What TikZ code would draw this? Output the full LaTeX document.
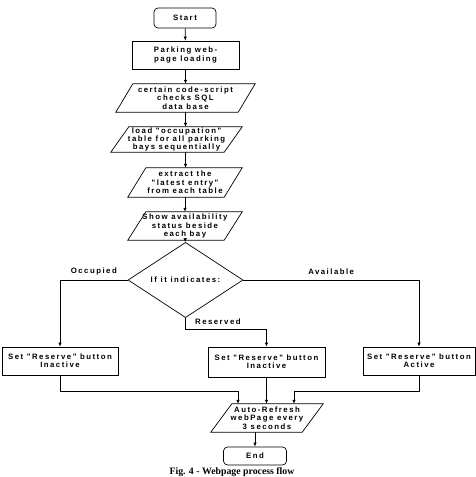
\documentclass[tikz,border=0pt]{standalone}
\usepackage{fontspec}
\setmainfont{Liberation Serif}
\newfontfamily\flowfont[LetterSpace=19]{Liberation Sans}
\usetikzlibrary{shapes.geometric,arrows.meta}
\tikzset{
  txt/.style={font=\flowfont\bfseries\fontsize{7.8}{8.4}\selectfont, align=center, inner sep=0pt},
  procbox/.style={txt, draw, line width=0.7pt},
  termbox/.style={txt, draw, rounded corners=4pt, line width=0.7pt},
  iobox/.style={txt},
  decbox/.style={txt, draw, diamond, line width=0.7pt, minimum width=115pt, minimum height=52pt},
  arr/.style={-{Latex[length=4pt,width=3.5pt]}, line width=0.7pt},
  para/.style={line width=0.7pt},
}
\newcommand{\paraoutline}[2]{\draw[para] (#1.south west) -- ([xshift=#2pt]#1.north west) -- (#1.north east) -- ([xshift=-#2pt]#1.south east) -- cycle;}
\begin{document}
\begin{tikzpicture}[x=1pt,y=-1pt]
\useasboundingbox (0,0) rectangle (476,477);
\node[termbox, minimum width=62pt, minimum height=20pt] (start) at (185,18) {Start};
\node[procbox, minimum width=107pt, minimum height=28pt] (load) at (185.5,55) {Parking web-\\page loading};
\node[iobox, minimum width=139pt, minimum height=28pt] (p1) at (185.5,98) {certain code-script\\checks SQL\\data base};
\paraoutline{p1}{17}
\node[iobox, minimum width=131pt, minimum height=25pt] (p2) at (176.5,139.5) {load "occupation"\\table for all parking\\bays sequentially};
\paraoutline{p2}{18}
\node[iobox, minimum width=114pt, minimum height=29pt] (p3) at (185,182.5) {extract the\\"latest entry"\\from each table};
\paraoutline{p3}{18}
\node[iobox, minimum width=114pt, minimum height=28pt] (p4) at (185,226) {Show availability\\status beside\\each bay};
\paraoutline{p4}{18}
\node[decbox] (dec) at (185.5,280) {If it indicates:};
\node[procbox, minimum width=116pt, minimum height=28pt] (bl) at (60,361) {Set "Reserve" button\\Inactive};
\node[procbox, minimum width=117pt, minimum height=30pt] (bm) at (266.5,362) {Set "Reserve" button\\Inactive};
\node[procbox, minimum width=112pt, minimum height=28pt] (br) at (419,361) {Set "Reserve" button\\Active};
\node[iobox, minimum width=112pt, minimum height=28pt] (p5) at (267,418) {Auto-Refresh\\webPage every\\3 seconds};
\paraoutline{p5}{21}
\node[termbox, minimum width=63pt, minimum height=18pt] (end) at (255,456) {End};
\node[font=\bfseries\fontsize{9.8}{10}\selectfont, inner sep=0pt] (cap) at (232,472) {Fig. 4 - Webpage process flow};

\draw[arr] (start) -- (load);
\draw[arr] (load) -- (p1);
\draw[arr] (p1.south) -- (p1.south |- p2.north);
\draw[arr] (p1.south |- p2.south) -- (p1.south |- p3.north);
\draw[arr] (p3) -- (p4);
\draw[arr] (p4) -- (dec);
\draw[arr] (dec.west) -| node[txt, pos=0.25, above=5pt] {Occupied} (bl.north);
\draw[arr] (dec.east) -| node[txt, pos=0.25, above=5pt] {Available} (br.north);
\coordinate (rk) at (185.5,329);
\draw[arr] (dec.south) -- (rk) -| node[txt, pos=0.2, above=4pt] {Reserved} (bm.north);
\coordinate (jl) at (238,391);
\coordinate (jr) at (294,391);
\draw[arr] (bl.south) |- (jl) -- (jl |- p5.north);
\draw[arr] (bm.south) -- (bm.south |- p5.north);
\draw[arr] (br.south) |- (jr) -- (jr |- p5.north);
\draw[arr] (end.north |- p5.south) -- (end);
\end{tikzpicture}
\end{document}
